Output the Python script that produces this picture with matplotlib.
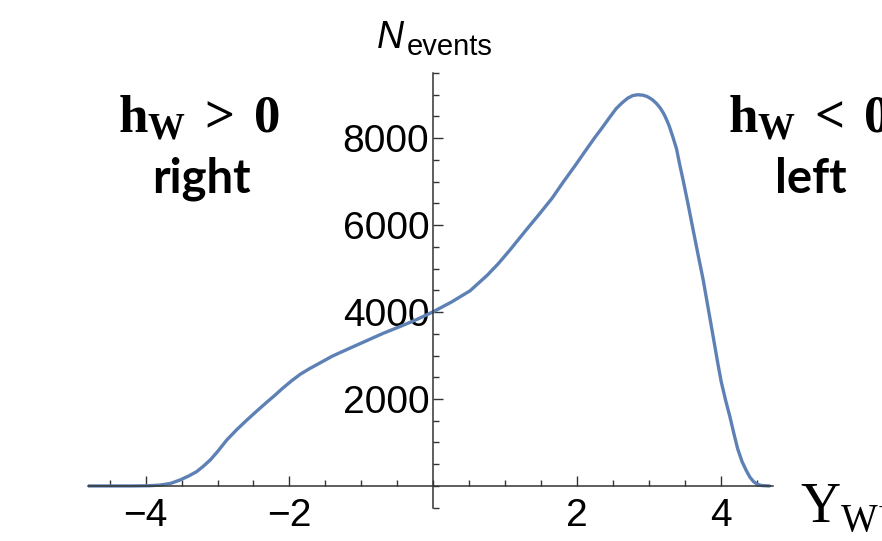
import matplotlib
matplotlib.use("Agg")
import matplotlib.pyplot as plt
from matplotlib.ticker import MultipleLocator

# rapidity distribution of W+ events
rapidity = [-4.8, -4.2, -3.95, -3.8, -3.65, -3.52, -3.4, -3.29, -3.2, -3.10,
            -3.0, -2.87, -2.73, -2.59, -2.45, -2.32, -2.2, -2.10, -1.97, -1.85,
            -1.72, -1.62, -1.4, -1.16, -0.93, -0.70, -0.46, -0.23, 0.0, 0.25,
            0.51, 0.75, 0.9, 1.06, 1.27, 1.48, 1.65, 1.80, 1.97, 2.13,
            2.25, 2.35, 2.45, 2.54, 2.62, 2.70, 2.77, 2.84, 2.91, 2.97,
            3.04, 3.10, 3.15, 3.20, 3.24, 3.28, 3.33, 3.38, 3.42, 3.47,
            3.54, 3.61, 3.68, 3.75, 3.82, 3.89, 3.95, 4.00, 4.06, 4.12,
            4.18, 4.23, 4.29, 4.35, 4.40, 4.45, 4.50, 4.56, 4.67]
n_events = [0, 0, 5, 20, 60, 138, 230, 330, 450, 600,
            790, 1060, 1300, 1520, 1730, 1920, 2090, 2240, 2420, 2570,
            2700, 2790, 2990, 3170, 3340, 3510, 3670, 3830, 4010, 4230,
            4490, 4850, 5110, 5420, 5850, 6270, 6620, 6980, 7370, 7750,
            8030, 8250, 8480, 8680, 8810, 8920, 8980, 9000, 8990, 8960,
            8890, 8800, 8700, 8570, 8430, 8270, 8020, 7750, 7420, 7040,
            6480, 5890, 5310, 4740, 4080, 3420, 2850, 2400, 1980, 1600,
            1180, 850, 560, 350, 200, 100, 40, 10, 0]

x_ticks = [-4, -2, 2, 4]
y_ticks = [2000, 4000, 6000, 8000]

W, H = 882, 541
plt.rcParams["mathtext.fontset"] = "custom"
plt.rcParams["mathtext.rm"] = "Liberation Serif"
plt.rcParams["mathtext.bf"] = "Liberation Serif:bold"

fig = plt.figure(figsize=(W / 100, H / 100), dpi=100)
fig.patch.set_facecolor("white")
ax = fig.add_axes([88 / W, 1 - 507.7 / H, (773 - 88) / W, (507.7 - 73) / H])

ax.plot(rapidity, n_events, color="#5E81B5", lw=2.4,
        solid_capstyle="round", solid_joinstyle="round")

ax.set_xlim(-4.8, 4.72)
ax.set_ylim(-500, 9500)

for side in ["top", "right"]:
    ax.spines[side].set_visible(False)
ax.spines["left"].set_position(("data", 0))
ax.spines["bottom"].set_position(("data", 0))
for side in ["left", "bottom"]:
    ax.spines[side].set_color("#333333")
    ax.spines[side].set_linewidth(1.1)

ax.set_xticks(x_ticks)
ax.set_yticks(y_ticks)
ax.xaxis.set_minor_locator(MultipleLocator(0.5))
ax.yaxis.set_minor_locator(MultipleLocator(500))
ax.tick_params(which="both", direction="in", color="#333333", width=1.0)
ax.tick_params(which="major", length=7)
ax.tick_params(which="minor", length=4.5)
ax.tick_params(axis="x", which="major", pad=9)
ax.tick_params(axis="y", which="major", pad=3)
for lab in ax.get_xticklabels() + ax.get_yticklabels():
    lab.set_fontfamily("Liberation Sans")
    lab.set_fontsize(28)
ax.patch.set_alpha(0)

def fx(px):
    return px / W

def fy(py):
    return 1 - py / H

# axis titles
fig.text(fx(377), fy(48.3), "N", family="Liberation Sans", style="italic",
         fontsize=27, va="baseline", ha="left")
fig.text(fx(407), fy(55), "events", family="Liberation Sans",
         fontsize=21, va="baseline", ha="left")
fig.text(fx(800), fy(523), r"$\mathrm{Y}_{\mathrm{W}^{+}}$", fontsize=40,
         va="baseline", ha="left")

# helicity annotations
fig.text(fx(118), fy(132), r"$\mathbf{h_W}\,\mathbf{>}\,\mathbf{0}$",
         fontsize=38, ha="left", va="baseline")
fig.text(fx(201), fy(192.7), "right", family="Lato", weight="bold",
         fontsize=34, ha="center", va="baseline")
fig.text(fx(728), fy(132), r"$\mathbf{h_W}\,\mathbf{<}\,\mathbf{0}$",
         fontsize=38, ha="left", va="baseline")
fig.text(fx(811), fy(193), "left", family="Lato", weight="bold",
         fontsize=34, ha="center", va="baseline")

fig.savefig("out.png", dpi=100)
